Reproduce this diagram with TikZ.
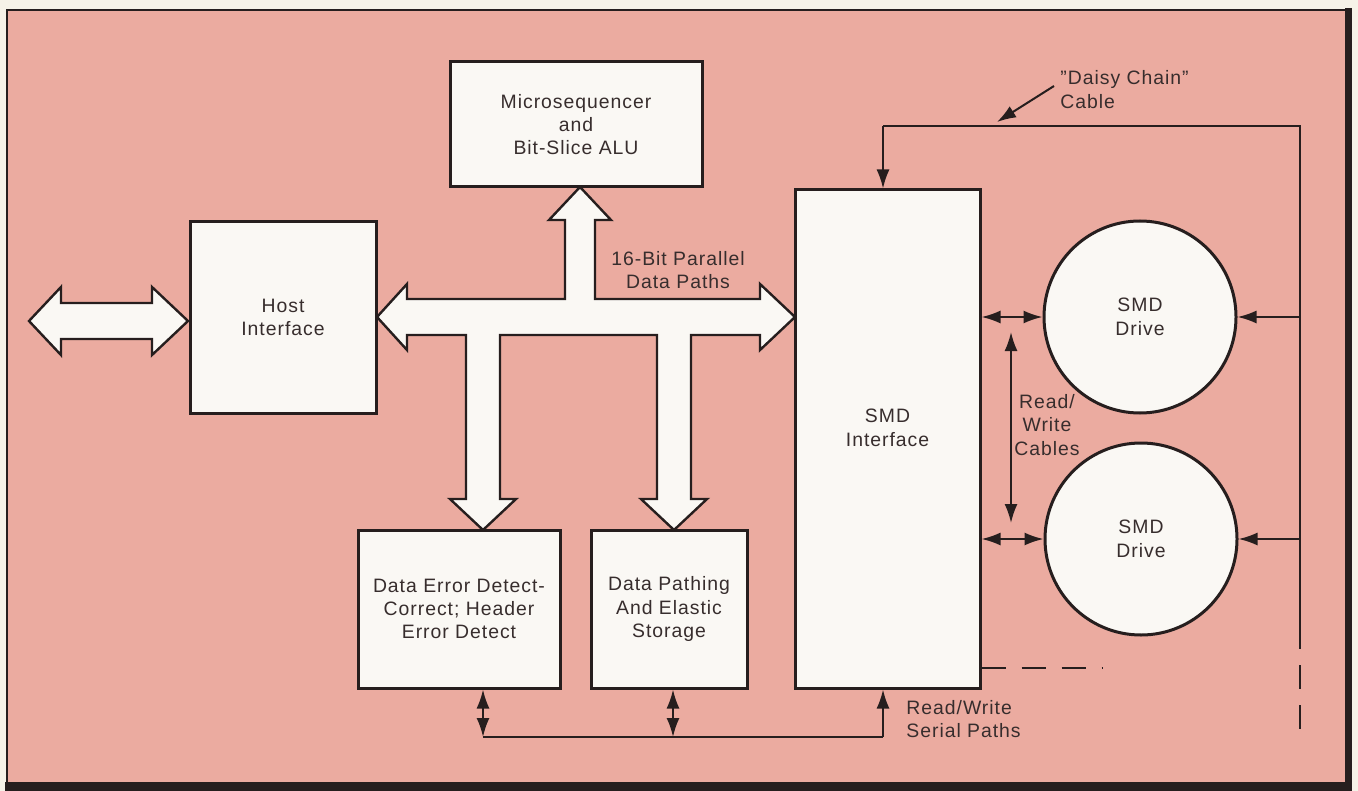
\documentclass[tikz,border=0pt]{standalone}
\usepackage{fontspec}
\setmainfont{Liberation Sans}[LetterSpace=5]
\usetikzlibrary{arrows.meta,calc}
\definecolor{bgout}{RGB}{246,242,232}
\definecolor{pinkbg}{RGB}{235,171,160}
\definecolor{ink}{RGB}{38,30,30}
\definecolor{txt}{RGB}{55,45,45}
\definecolor{boxfill}{RGB}{250,248,244}
\newcommand{\diagfont}{\fontsize{9.7}{11.7}\selectfont}
\begin{document}
\begin{tikzpicture}[x=0.5pt,y=-0.5pt,
  >={Latex[length=9.5pt,width=6.5pt]},
  box/.style={draw=ink, line width=1.5pt, fill=boxfill, rectangle, inner sep=0pt, align=center, text=txt, font=\diagfont},
  drive/.style={draw=ink, line width=1.5pt, fill=boxfill, circle, inner sep=0pt, align=center, text=txt, font=\diagfont},
  lbl/.style={inner sep=0pt, align=center, text=txt, font=\diagfont},
  conn/.style={draw=ink, line width=1pt},
  bus/.style={draw=ink, line width=1.2pt, fill=boxfill, line join=miter},
  dsh/.style={draw=ink, line width=1pt, dash pattern=on 12pt off 8pt}]
\useasboundingbox (0,0) rectangle (1358,791);
% frame
\fill[bgout] (0,0) rectangle (1358,791);
\draw[ink, line width=1.2pt, fill=pinkbg] (7,10) rectangle (1348,784);
\fill[ink] (1345,8) rectangle (1352,791);
\fill[ink] (5,782) rectangle (1352,791);

% host double arrow
\draw[bus] (29,321) -- (61,287) -- (61,303) -- (152,303) -- (152,287) -- (188,321)
  -- (152,355) -- (152,339) -- (61,339) -- (61,355) -- cycle;

% 16-bit bus
\draw[bus] (377,317) -- (407,284) -- (407,299) -- (565,299) -- (565,220) -- (549,220)
  -- (580,187) -- (611,220) -- (595,220) -- (595,299) -- (760,299) -- (760,284)
  -- (795,317) -- (760,350) -- (760,335) -- (691,335) -- (691,499) -- (707,499)
  -- (674,530) -- (641,499) -- (657,499) -- (657,335) -- (500,335) -- (500,499)
  -- (516,499) -- (483,530) -- (450,499) -- (466,499) -- (466,335) -- (407,335)
  -- (407,350) -- cycle;

% boxes
\node[box, minimum width=126pt, minimum height=62.5pt] (mic) at (576,124.5) {Microsequencer\\and\\Bit-Slice ALU};
\node[box, minimum width=93pt, minimum height=95.5pt] (host) at (283,317.5) {Host\\Interface};
\node[box, minimum width=101pt, minimum height=79pt] (deb) at (459,609) {Data Error Detect-\\Correct; Header\\Error Detect};
\node[box, minimum width=78pt, minimum height=79pt] (dps) at (669,609) {Data Pathing\\And Elastic\\Storage};
\node[box, minimum width=92.5pt, minimum height=249pt] (smd) at (887.5,439) {};
\node[lbl] (smdt) at (887.5,428) {SMD\\Interface};
\node[drive, minimum size=96pt] (d1) at (1140,317) {SMD\\Drive};
\node[drive, minimum size=96pt] (d2) at (1141,539) {SMD\\Drive};

% labels
\node[lbl] (buslbl) at (678,270) {16-Bit Parallel\\Data Paths};
\node[lbl, anchor=west, align=left] (daisy) at (1060,89.5) {"Daisy Chain"\\Cable};
\node[lbl, anchor=west, align=left] (rws) at (906,719) {Read/Write\\Serial Paths};
\node[lbl] (rwc) at (1047,425) {Read/\\Write\\Cables};

% coordinates
\coordinate (tr) at (1300,126);
\coordinate (tl) at (883,126);
\coordinate (vs) at (1300,625);
\coordinate (ve) at (1300,733);
\coordinate (sb) at (883,737);
\coordinate (b1) at (483,737);
\coordinate (b2) at (673,737);
\coordinate (rc1) at (1011,332);
\coordinate (rc2) at (1011,523);
\coordinate (ds) at (1102,668);
\coordinate (dtip) at (997,122);

% daisy chain cable
\draw[conn] (vs) -- (tr) -- (tl);
\draw[conn,->] (tl) -- (tl |- smd.north);
\draw[dsh] (vs) -- (ve);
\draw[conn,->] ($(daisy.west)+(-6,-3.5)$) -- (dtip);

% drives
\draw[conn,<->] (smd.east |- d1.center) -- (d1.west);
\draw[conn,<->] (smd.east |- d2.center) -- (d2.west);
\draw[conn,->] (tr |- d1.center) -- (d1.east);
\draw[conn,->] (tr |- d2.center) -- (d2.east);
\draw[conn,<->] (rc1) -- (rc2);
\draw[dsh] (smd.east |- ds) -- (ds);

% serial paths
\draw[conn] (b1) -- (sb);
\draw[conn,->] (sb) -- (sb |- smd.south);
\draw[conn,<->] (b1) -- (b1 |- deb.south);
\draw[conn,<->] (b2) -- (b2 |- dps.south);
\end{tikzpicture}
\end{document}
